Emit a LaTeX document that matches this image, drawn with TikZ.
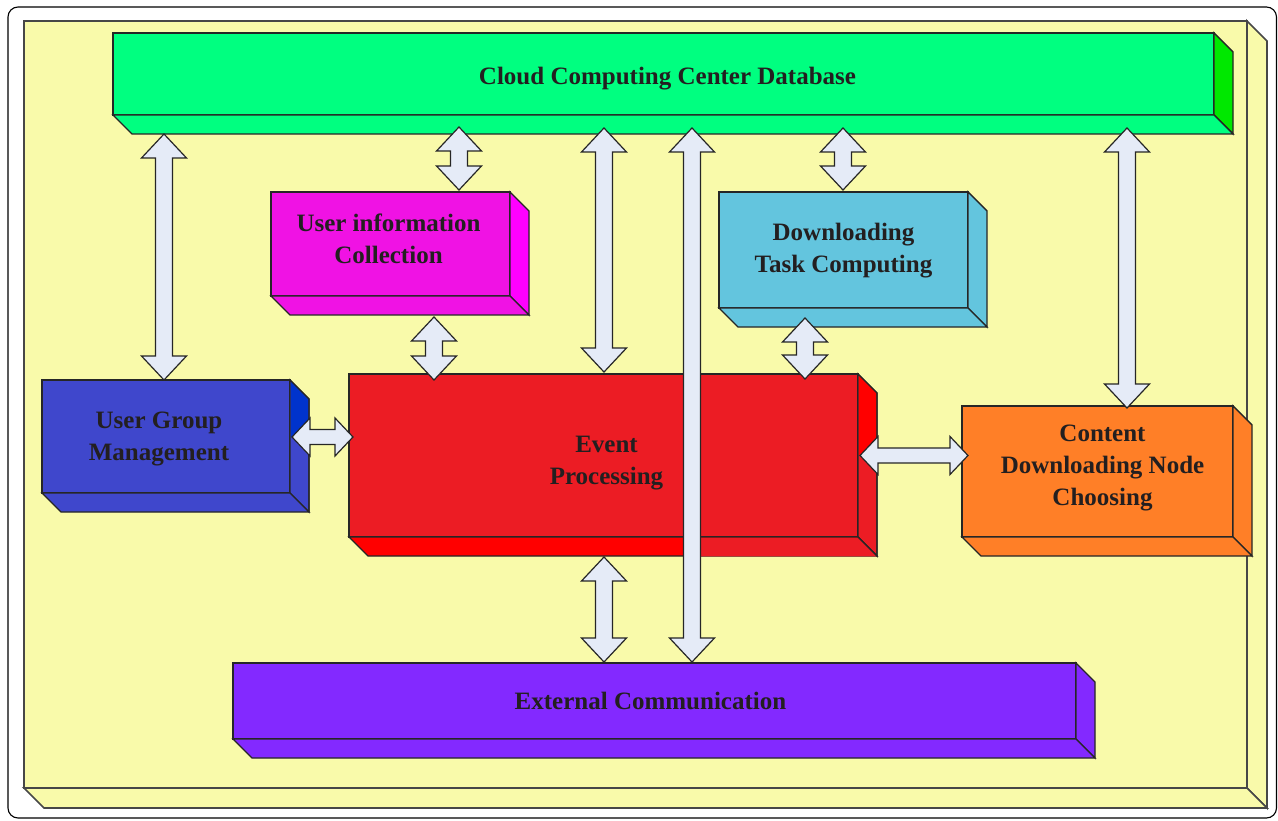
\documentclass[tikz,border=0pt]{standalone}
\usepackage{fontspec}
\setmainfont{Liberation Serif}
\usetikzlibrary{calc}
\definecolor{yel}{HTML}{F9FAAA}
\definecolor{grn}{HTML}{00FF80}
\definecolor{grnside}{HTML}{00E800}
\definecolor{mag}{HTML}{F012E4}
\definecolor{magside}{HTML}{FF00FF}
\definecolor{cyn}{HTML}{63C5DE}
\definecolor{blu}{HTML}{3F47CC}
\definecolor{bluside}{HTML}{0033CC}
\definecolor{rdd}{HTML}{EC1C24}
\definecolor{rddside}{HTML}{FF0000}
\definecolor{org}{HTML}{FF7F27}
\definecolor{pur}{HTML}{8329FF}
\definecolor{arrfill}{HTML}{E5EBF7}
\definecolor{txt}{HTML}{231F20}
\definecolor{edgec}{HTML}{262626}
% text lines shifted by (#1 right, #2 down) inside a box, extent kept
\newcommand\boxtext[3]{\hspace*{#1}\raisebox{-#2}[\height][\depth]{\begin{tabular}{@{}c@{}}#3\end{tabular}}\hspace*{-#1}}
\newcommand\boxsides[3]{%
  \filldraw[fill=#2, edge] (#1.north east) -- ++(19,19) -- ($(#1.south east)+(19,19)$) -- (#1.south east) -- cycle;
  \filldraw[fill=#3, edge] (#1.south west) -- ++(19,19) -- ($(#1.south east)+(19,19)$) -- (#1.south east) -- cycle;}
\newcommand\vdbl[2]{\draw[blockarr] let \p1=#1, \p2=#2 in
  (\x1,\y1) -- (\x1+22.5pt,\y1-24pt) -- (\x1+8.5pt,\y1-24pt) -- (\x1+8.5pt,\y2+24pt) -- (\x1+22.5pt,\y2+24pt) -- (\x1,\y2)
  -- (\x1-22.5pt,\y2+24pt) -- (\x1-8.5pt,\y2+24pt) -- (\x1-8.5pt,\y1-24pt) -- (\x1-22.5pt,\y1-24pt) -- cycle;}
\newcommand\hdbl[2]{\draw[blockarr] let \p1=#1, \p2=#2 in
  (\x1,\y1) -- (\x1+18pt,\y1+19pt) -- (\x1+18pt,\y1+7.5pt) -- (\x2-18pt,\y1+7.5pt) -- (\x2-18pt,\y1+19pt) -- (\x2,\y1)
  -- (\x2-18pt,\y1-19pt) -- (\x2-18pt,\y1-7.5pt) -- (\x1+18pt,\y1-7.5pt) -- (\x1+18pt,\y1-19pt) -- cycle;}
\begin{document}
\begin{tikzpicture}[x=1pt,y=-1pt,
  edge/.style={draw=edgec, line width=1.4pt, line join=miter},
  front/.style={edge, rectangle, inner sep=0pt, outer sep=0pt,
    text=txt, font=\fontsize{25}{32}\selectfont\bfseries},
  blockarr/.style={fill=arrfill, draw=edgec, line width=1.2pt, line join=miter}]
\useasboundingbox (0,0) rectangle (1278,821);
\fill[white] (0,0) rectangle (1278,821);
\draw[black, line width=1.1pt, rounded corners=10pt] (8,7) rectangle (1276.5,818);
% outer frame
\node[front, fill=yel, draw=edgec!85, line width=1.7pt, minimum width=1223pt, minimum height=767pt] (frame) at (635.5,404.5) {};
\filldraw[fill=yel, draw=edgec!85, line width=1.7pt] (frame.north east) -- ++(20,20) -- ($(frame.south east)+(20,20)$) -- (frame.south east) -- cycle;
\filldraw[fill=yel, draw=edgec!85, line width=1.7pt] (frame.south west) -- ++(20,20) -- ($(frame.south east)+(20,20)$) -- (frame.south east) -- cycle;
% boxes
\node[front, fill=grn, minimum width=1101pt, minimum height=82pt] (green) at (663.5,74) {\boxtext{4pt}{4pt}{Cloud Computing Center Database}};
\boxsides{green}{grnside}{grn}
\node[front, fill=mag, minimum width=239pt, minimum height=104pt] (mag) at (390.5,244) {\boxtext{-2pt}{-3pt}{User information\\Collection}};
\boxsides{mag}{magside}{mag}
\node[front, fill=cyn, minimum width=249pt, minimum height=116pt] (cyan) at (843.5,250) {\boxtext{0pt}{0pt}{Downloading\\Task Computing}};
\boxsides{cyan}{cyn}{cyn}
\node[front, fill=blu, minimum width=248pt, minimum height=113pt] (blue) at (166,436.5) {\boxtext{-7pt}{1.5pt}{User Group\\Management}};
\boxsides{blue}{blu}{blu}
\fill[bluside] ($(blue.north east)+(0.8,1.5)$) -- ($(blue.north east)+(18.3,19)$) -- ($(blue.north east)+(18.3,57)$) -- ($(blue.north east)+(0.8,57)$) -- cycle;
\draw[edge] (blue.north east) -- ++(19,19) -- ($(blue.south east)+(19,19)$);
\node[front, fill=rdd, minimum width=509pt, minimum height=163pt] (red) at (603.5,455.5) {\boxtext{3pt}{7pt}{Event\\Processing}};
\boxsides{red}{rdd}{rddside}
\fill[rddside] ($(red.north east)+(0.8,1.5)$) -- ($(red.north east)+(18.3,19)$) -- ($(red.north east)+(18.3,81)$) -- ($(red.north east)+(0.8,81)$) -- cycle;
\fill[rdd] ($(692,0 |- red.south)+(0,0.8)$) -- ($(red.south east)+(0,0.8)$) -- ($(red.south east)+(18.3,19.3)$) -- ($(692,0 |- red.south)+(0,19.3)$) -- cycle;
\draw[edge] (red.north east) -- ++(19,19) -- ($(red.south east)+(19,19)$) -- (red.south east);
\node[front, fill=org, minimum width=271pt, minimum height=131pt] (orange) at (1097.5,471.5) {\boxtext{5pt}{-4pt}{Content\\Downloading Node\\Choosing}};
\boxsides{orange}{org}{org}
\node[front, fill=pur, minimum width=843pt, minimum height=76pt] (purple) at (654.5,701) {\boxtext{-4pt}{2pt}{External Communication}};
\boxsides{purple}{pur}{pur}
% arrows
\vdbl{($(164,0 |- green.south)+(0,19)$)}{(164,0 |- blue.north)}
\vdbl{($(459,0 |- green.south)+(0,12)$)}{($(459,0 |- mag.north)+(0,-2)$)}
\vdbl{($(604,0 |- green.south)+(0,13)$)}{($(604,0 |- red.north)+(0,-2)$)}
\vdbl{($(843,0 |- green.south)+(0,13)$)}{($(843,0 |- cyan.north)+(0,-2)$)}
\vdbl{($(1127,0 |- green.south)+(0,13)$)}{($(1127,0 |- orange.north)+(0,2)$)}
\vdbl{($(434,0 |- mag.south)+(0,21)$)}{($(434,0 |- red.north)+(0,6)$)}
\vdbl{($(805,0 |- cyan.south)+(0,10)$)}{($(805,0 |- red.north)+(0,5)$)}
\vdbl{($(604,0 |- red.south)+(0,20)$)}{($(604,0 |- purple.north)+(0,-1)$)}
\hdbl{($(blue.east)+(2,0.5)$)}{($(red.west)+(4,0)$)}
\hdbl{($(red.east)+(2,0)$)}{($(orange.west)+(6,0)$)}
\vdbl{($(692,0 |- green.south)+(0,13)$)}{($(692,0 |- purple.north)+(0,-1)$)}
\end{tikzpicture}
\end{document}
